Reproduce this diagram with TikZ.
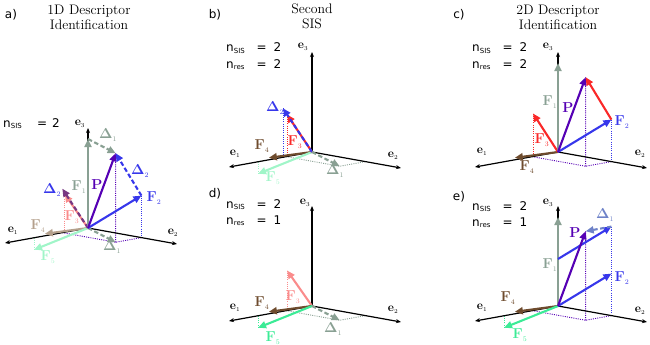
\documentclass[tikz,border=0pt]{standalone}
\usepackage[no-math]{fontspec}
\newfontfamily\dvfont{DejaVu Sans}
\usetikzlibrary{arrows.meta}
\definecolor{cFone}{RGB}{137,160,147}
\definecolor{cP}{RGB}{85,0,180}
\definecolor{cFtwo}{RGB}{55,55,235}
\definecolor{cFthree}{RGB}{250,40,40}
\definecolor{cFthreel}{RGB}{250,140,140}
\definecolor{cFfour}{RGB}{110,75,45}
\definecolor{cFfourl}{RGB}{180,160,140}
\definecolor{cFfive}{RGB}{60,235,150}
\definecolor{cFfivel}{RGB}{160,245,200}
\definecolor{cDtwoa}{RGB}{120,55,130}
\definecolor{cDonee}{RGB}{110,130,200}
\newcommand\nsline[4]{\makebox[#3pt][l]{n\textsubscript{\fontsize{7}{8}\selectfont #1}}\makebox[#4pt][l]{=}#2}
\newcommand\mkpts[1]{%
  \coordinate (O#1) at (0,0,0);
  \coordinate (Ea#1) at (1,0,0);
  \coordinate (Eb#1) at (0,1,0);
  \coordinate (Ec#1) at (0,0,1);
  \coordinate (F1#1) at (0,0,0.89);
  \coordinate (F1h#1) at (0,0,0.47);
  \coordinate (F2#1) at (0,0.6,0.42);
  \coordinate (F2t#1) at (0,0.6,0.89);
  \coordinate (P#1) at (0.31,0.6,0.89);
  \coordinate (F4#1) at (0.52,0,0.02);
  \coordinate (F5#1) at (0.65,0,-0.12);
  \coordinate (F5g#1) at (0.65,0,0);
  \coordinate (Ga#1) at (0.31,0,0);
  \coordinate (Gb#1) at (0.31,0.6,0);
  \coordinate (Gc#1) at (0,0.6,0);
}
\begin{document}
\begin{tikzpicture}[x=1pt,y=-1pt,
  tdframe/.style={x={(-83pt,-15pt)},y={(89pt,-16pt)},z={(0pt,100pt)}},
  axis/.style={black,line width=1.2pt,-{Stealth[length=5pt,width=4pt]}},
  vec/.style={line width=2.1pt,-{Triangle[length=8pt,width=7pt]}},
  dvec/.style={vec,dash pattern=on 4.5pt off 2.5pt},
  proj/.style={line width=0.9pt,dash pattern=on 1pt off 1.2pt},
  lab/.style={font=\fontsize{14}{16}\selectfont,inner sep=0pt},
  elab/.style={font=\fontsize{13}{15}\selectfont,inner sep=0pt},
  ttl/.style={font=\fontsize{13.8}{15}\selectfont,align=center,inner sep=0pt},
  ntext/.style={font=\dvfont\fontsize{12}{14}\selectfont,inner sep=0pt,anchor=base west},
  plet/.style={font=\dvfont\fontsize{12}{14}\selectfont,inner sep=0pt}]
\useasboundingbox (0,0) rectangle (650,345);
% ---------------- coordinates
\begin{scope}[shift={(88,228)},tdframe]
  \mkpts{a}
  \coordinate (F3a) at (0.28,0,0.38);
  \coordinate (H3a) at (0.28,0,0);
  \coordinate (D2a) at (0.31,0,0.44);
\end{scope}
\begin{scope}[shift={(312,152)},tdframe]
  \mkpts{b}
  \coordinate (F3b) at (0.30,0,0.42);
  \coordinate (H3b) at (0.30,0,0);
  \coordinate (D2b) at (0.35,0,0.49);
  \coordinate (HD2b) at (0.35,0,0);
\end{scope}
\begin{scope}[shift={(558,152)},tdframe]
  \mkpts{c}
  \coordinate (F3c) at (0.30,0,0.43);
  \coordinate (H3c) at (0.30,0,0);
\end{scope}
\begin{scope}[shift={(312,306)},tdframe]
  \mkpts{d}
  \coordinate (F3d) at (0.30,0,0.40);
  \coordinate (H3d) at (0.30,0,0);
\end{scope}
\begin{scope}[shift={(558,306)},tdframe]
  \mkpts{e}
\end{scope}
% ---------------- headings
\node[plet] (la) at (11,15) {a)};
\node[plet] (lb) at (215,15) {b)};
\node[plet] (lc) at (459,15) {c)};
\node[plet] (ld) at (215,194) {d)};
\node[plet] (le) at (459,197) {e)};
\node[ttl] (ta) at (89,17) {1D Descriptor\\Identification};
\node[ttl] (tb) at (312,16) {Second\\SIS};
\node[ttl] (tc) at (558,17) {2D Descriptor\\Identification};
\node[ntext] (na) at (3,127) {\nsline{SIS}{2}{34}{15}};
\node[ntext] (nb1) at (226,52) {\nsline{SIS}{2}{30.5}{17}};
\node[ntext] (nb2) at (226,68) {\nsline{res}{2}{30.5}{17}};
\node[ntext] (nc1) at (472,52) {\nsline{SIS}{2}{30.5}{17}};
\node[ntext] (nc2) at (472,68) {\nsline{res}{2}{30.5}{17}};
\node[ntext] (nd1) at (226,208) {\nsline{SIS}{2}{30.5}{17}};
\node[ntext] (nd2) at (226,224) {\nsline{res}{1}{30.5}{17}};
\node[ntext] (ne1) at (472,210) {\nsline{SIS}{2}{30.5}{17}};
\node[ntext] (ne2) at (472,226) {\nsline{res}{1}{30.5}{17}};
% ================= panel a
\draw[proj,cP] (Pa) -- (Gba) (Gaa) -- (Gba) -- (Gca);
\draw[proj,cFtwo] (F2a) -- (Gca);
\draw[proj,cFthreel] (F3a) -- (H3a);
\draw[proj,cFfivel] (F5a) -- (F5ga);
\draw[axis] (Oa) -- (Eaa);
\draw[axis] (Oa) -- (Eba);
\draw[axis] (Oa) -- (Eca);
\draw[vec,cFfourl] (Oa) -- (F4a);
\draw[vec,cFfivel] (Oa) -- (F5a);
\draw[vec,cFthreel] (Oa) -- (F3a);
\draw[dvec,cDtwoa] (Oa) -- (D2a);
\draw[vec,cFone] (Oa) -- (F1a);
\draw[dvec,cFone] (Oa) -- (Gba);
\draw[vec,cFtwo] (Oa) -- (F2a);
\draw[vec,cP] (Oa) -- (Pa);
\draw[dvec,cFone] (F1a) -- (Pa);
\draw[dvec,cFtwo] (F2a) -- (Pa);
\node[elab] (e1a) at (13,231) {$\mathbf{e}_{\scriptscriptstyle 1}$};
\node[elab] (e2a) at (173,233) {$\mathbf{e}_{\scriptscriptstyle 2}$};
\node[elab] (e3a) at (80,124) {$\mathbf{e}_{\scriptscriptstyle 3}$};
\node[lab,text=cFone] (lF1a) at (79,187) {$\mathbf{F}_{\scriptscriptstyle 1}$};
\node[lab,text=cP] (lPa) at (97,185) {$\mathbf{P}$};
\node[lab,text=cFtwo] (lF2a) at (154,198) {$\mathbf{F}_{\scriptscriptstyle 2}$};
\node[lab,text=cFthreel] (lF3a) at (72,217) {$\mathbf{F}_{\scriptscriptstyle 3}$};
\node[lab,text=cFfourl] (lF4a) at (38,226) {$\mathbf{F}_{\scriptscriptstyle 4}$};
\node[lab,text=cFfivel] (lF5a) at (48,257) {$\mathbf{F}_{\scriptscriptstyle 5}$};
\node[lab,text=cFtwo] (lD2la) at (52,190) {$\mathbf{\Delta}_{\scriptscriptstyle 2}$};
\node[lab,text=cFtwo] (lD2ra) at (140,171) {$\mathbf{\Delta}_{\scriptscriptstyle 2}$};
\node[lab,text=cFone] (lD1ua) at (108,135) {$\mathbf{\Delta}_{\scriptscriptstyle 1}$};
\node[lab,text=cFone] (lD1la) at (112,247) {$\mathbf{\Delta}_{\scriptscriptstyle 1}$};
% ================= panel b
\draw[proj,cFone] (Gab) -- (Gbb) -- (Gcb);
\draw[proj,cFthree] (F3b) -- (H3b);
\draw[proj,cFtwo] (D2b) -- (HD2b);
\draw[proj,cFfivel] (F5b) -- (F5gb);
\draw[axis] (Ob) -- (Eab);
\draw[axis] (Ob) -- (Ebb);
\draw[axis] (Ob) -- (Ecb);
\draw[vec,cFfour] (Ob) -- (F4b);
\draw[vec,cFfivel] (Ob) -- (F5b);
\draw[vec,cFthree] (Ob) -- (F3b);
\draw[dvec,cFtwo] (Ob) -- (D2b);
\draw[dvec,cFone] (Ob) -- (Gbb);
\node[elab] (e1b) at (235,154) {$\mathbf{e}_{\scriptscriptstyle 1}$};
\node[elab] (e2b) at (393,156) {$\mathbf{e}_{\scriptscriptstyle 2}$};
\node[elab] (e3b) at (303,47) {$\mathbf{e}_{\scriptscriptstyle 3}$};
\node[lab,text=cFtwo] (lD2b) at (275,108) {$\mathbf{\Delta}_{\scriptscriptstyle 2}$};
\node[lab,text=cFthree] (lF3b) at (295,142) {$\mathbf{F}_{\scriptscriptstyle 3}$};
\node[lab,text=cFfour] (lF4b) at (262,146) {$\mathbf{F}_{\scriptscriptstyle 4}$};
\node[lab,text=cFfivel] (lF5b) at (273,178) {$\mathbf{F}_{\scriptscriptstyle 5}$};
\node[lab,text=cFone] (lD1b) at (335,171) {$\mathbf{\Delta}_{\scriptscriptstyle 1}$};
% ================= panel c
\draw[proj,cP] (Pc) -- (Gbc) (Gac) -- (Gbc) -- (Gcc);
\draw[proj,cFtwo] (F2c) -- (Gcc);
\draw[proj,cFthree] (F3c) -- (H3c);
\draw[axis] (Oc) -- (Eac);
\draw[axis] (Oc) -- (Ebc);
\draw[axis] (Oc) -- (Ecc);
\draw[vec,cFfour] (Oc) -- (F4c);
\draw[vec,cFthree] (Oc) -- (F3c);
\draw[vec,cFone] (Oc) -- (F1c);
\draw[vec,cFtwo] (Oc) -- (F2c);
\draw[vec,cP] (Oc) -- (Pc);
\draw[vec,cFthree] (F2c) -- (Pc);
\node[elab] (e1c) at (482,152) {$\mathbf{e}_{\scriptscriptstyle 1}$};
\node[elab] (e2c) at (640,154) {$\mathbf{e}_{\scriptscriptstyle 2}$};
\node[elab] (e3c) at (548,47) {$\mathbf{e}_{\scriptscriptstyle 3}$};
\node[lab,text=cFone] (lF1c) at (550,102) {$\mathbf{F}_{\scriptscriptstyle 1}$};
\node[lab,text=cP] (lPc) at (568,108) {$\mathbf{P}$};
\node[lab,text=cFtwo] (lF2c) at (622,122) {$\mathbf{F}_{\scriptscriptstyle 2}$};
\node[lab,text=cFthree] (lF3c) at (542,140) {$\mathbf{F}_{\scriptscriptstyle 3}$};
\node[lab,text=cFfour] (lF4c) at (527,167) {$\mathbf{F}_{\scriptscriptstyle 4}$};
% ================= panel d
\draw[proj,cFone] (Gad) -- (Gbd) -- (Gcd);
\draw[proj,cFthreel] (F3d) -- (H3d);
\draw[proj,cFfive] (F5d) -- (F5gd);
\draw[axis] (Od) -- (Ead);
\draw[axis] (Od) -- (Ebd);
\draw[axis] (Od) -- (Ecd);
\draw[vec,cFthreel] (Od) -- (F3d);
\draw[vec,cFfour] (Od) -- (F4d);
\draw[vec,cFfive] (Od) -- (F5d);
\draw[dvec,cFone] (Od) -- (Gbd);
\node[elab] (e1d) at (235,308) {$\mathbf{e}_{\scriptscriptstyle 1}$};
\node[elab] (e2d) at (393,310) {$\mathbf{e}_{\scriptscriptstyle 2}$};
\node[elab] (e3d) at (305,203) {$\mathbf{e}_{\scriptscriptstyle 3}$};
\node[lab,text=cFthreel] (lF3d) at (293,297) {$\mathbf{F}_{\scriptscriptstyle 3}$};
\node[lab,text=cFfour] (lF4d) at (262,303) {$\mathbf{F}_{\scriptscriptstyle 4}$};
\node[lab,text=cFfive] (lF5d) at (273,338) {$\mathbf{F}_{\scriptscriptstyle 5}$};
\node[lab,text=cFone] (lD1d) at (333,329) {$\mathbf{\Delta}_{\scriptscriptstyle 1}$};
% ================= panel e
\draw[proj,cP] (Pe) -- (Gbe) (Gae) -- (Gbe) -- (Gce);
\draw[proj,cFtwo] (F2te) -- (Gce);
\draw[proj,cFfive] (F5e) -- (F5ge);
\draw[axis] (Oe) -- (Eae);
\draw[axis] (Oe) -- (Ebe);
\draw[axis] (Oe) -- (Ece);
\draw[vec,cFfour] (Oe) -- (F4e);
\draw[vec,cFfive] (Oe) -- (F5e);
\draw[vec,cFone] (Oe) -- (F1e);
\draw[vec,cFtwo] (Oe) -- (F2e);
\draw[vec,cFtwo] (F1he) -- (F2te);
\draw[vec,cP] (Oe) -- (Pe);
\draw[dvec,cDonee] (F2te) -- (Pe);
\node[elab] (e1e) at (482,308) {$\mathbf{e}_{\scriptscriptstyle 1}$};
\node[elab] (e2e) at (640,311) {$\mathbf{e}_{\scriptscriptstyle 2}$};
\node[elab] (e3e) at (548,203) {$\mathbf{e}_{\scriptscriptstyle 3}$};
\node[lab,text=cFone] (lF1e) at (550,265) {$\mathbf{F}_{\scriptscriptstyle 1}$};
\node[lab,text=cP] (lPe) at (575,233) {$\mathbf{P}$};
\node[lab,text=cDonee] (lD1e) at (605,215) {$\mathbf{\Delta}_{\scriptscriptstyle 1}$};
\node[lab,text=cFtwo] (lF2e) at (622,278) {$\mathbf{F}_{\scriptscriptstyle 2}$};
\node[lab,text=cFfour] (lF4e) at (508,298) {$\mathbf{F}_{\scriptscriptstyle 4}$};
\node[lab,text=cFfive] (lF5e) at (520,335) {$\mathbf{F}_{\scriptscriptstyle 5}$};
\end{tikzpicture}
\end{document}
